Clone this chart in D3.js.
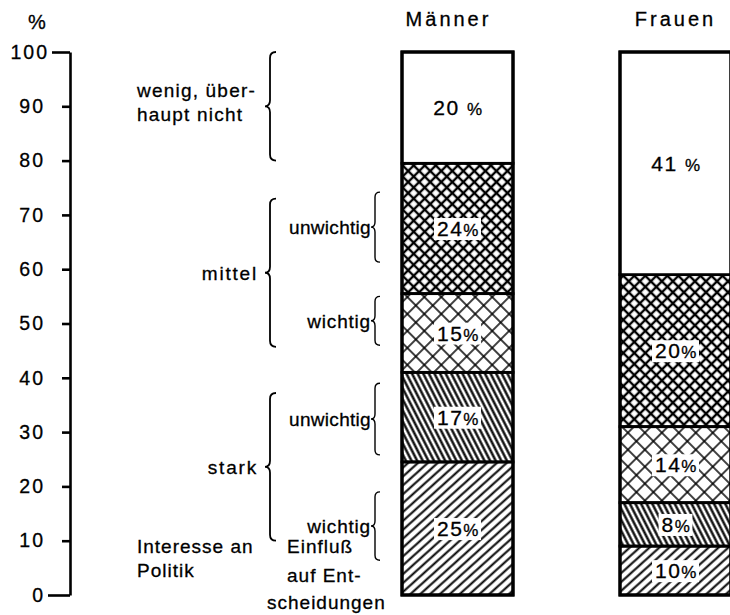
<!DOCTYPE html>
<html><head><meta charset="utf-8">
<script src="https://cdn.jsdelivr.net/npm/d3@7"></script>
<style>body{margin:0;background:#fff}svg{display:block}text{font-family:"Liberation Sans",Arial,sans-serif;fill:#000;stroke:#000;stroke-width:0.3px}</style>
</head><body><svg id="c" width="730" height="615"></svg>
<script>
// ---- data ----
const groups = ["Männer", "Frauen"];
const categories = ["stark-wichtig", "stark-unwichtig", "mittel-wichtig", "mittel-unwichtig", "wenig"];
const maennerValues = [24.5, 16.5, 14.5, 24, 20.5];   // drawn segment heights (%)
const frauenValues  = [9, 8, 14, 28, 41];
const maennerLabels = ["25", "17", "15", "24", "20"]; // printed labels
const frauenLabels  = ["10", "8", "14", "20", "41"];
const yTicks = [0, 10, 20, 30, 40, 50, 60, 70, 80, 90, 100];
const interestGroups = [
  {lines: ["wenig, über-", "haupt nicht"], from: 80, to: 100},
  {lines: ["mittel"], from: 45.7, to: 73},
  {lines: ["stark"], from: 10, to: 37.2}
];
const influenceGroups = [
  {label: "unwichtig", from: 61.3, to: 74.2},
  {label: "wichtig", from: 46, to: 55},
  {label: "unwichtig", from: 25.8, to: 39},
  {label: "wichtig", from: 6.4, to: 19}
];

const svg = d3.select("#c");
const y = d3.scaleLinear().domain([0, 100]).range([595, 52]);
const x = d3.scaleBand().domain(groups).range([402, 731]).paddingInner(0.4908);
const bw = x.bandwidth();

// ---- patterns ----
const defs = svg.append("defs");
function linePattern(id, spacing, angle, sw) {
  const p = defs.append("pattern").attr("id", id).attr("patternUnits", "userSpaceOnUse")
    .attr("width", 20).attr("height", spacing).attr("patternTransform", `rotate(${angle})`);
  p.append("line").attr("x1", 0).attr("x2", 20).attr("y1", spacing / 2).attr("y2", spacing / 2)
    .attr("stroke", "#000").attr("stroke-width", sw);
}
function crossPattern(id, s, sw) {
  const p = defs.append("pattern").attr("id", id).attr("patternUnits", "userSpaceOnUse")
    .attr("width", s).attr("height", s).attr("patternTransform", "rotate(45)");
  p.append("line").attr("x1", 0).attr("x2", s).attr("y1", s / 2).attr("y2", s / 2).attr("stroke", "#000").attr("stroke-width", sw);
  p.append("line").attr("y1", 0).attr("y2", s).attr("x1", s / 2).attr("x2", s / 2).attr("stroke", "#000").attr("stroke-width", sw);
}
linePattern("p0", 6.6, -42, 2.0);
linePattern("p1", 5.0, 63, 2.3);
crossPattern("p2", 12, 1.5);
crossPattern("p3", 7.8, 2.4);
const fills = ["url(#p0)", "url(#p1)", "url(#p2)", "url(#p3)", "#fff"];

// ---- axis ----
const axis = d3.axisLeft(y).tickValues(yTicks).tickSize(8).tickSizeOuter(0).tickPadding(17).tickFormat(d3.format("d"));
const ag = svg.append("g").attr("transform", "translate(70,0)").call(axis);
ag.attr("font-family", null).attr("font-size", null);
ag.select(".domain").attr("stroke-width", 2.6);
ag.selectAll(".tick line").attr("stroke-width", 2.6);
ag.selectAll(".tick text").style("font-size", "19.5px").style("letter-spacing", "2px");
ag.selectAll(".tick").filter(d => d === 100).select("line").attr("x2", -18);
ag.selectAll(".tick").filter(d => d === 100).select("text").attr("x", -21);
ag.selectAll(".tick").filter(d => d === 0).select("line").attr("x2", -22);
svg.append("text").attr("x", 37).attr("y", 29).attr("text-anchor", "middle").style("font-size", "20px").text("%");

// ---- bars ----
const series = [
  {g: "Männer", values: maennerValues, labels: maennerLabels},
  {g: "Frauen", values: frauenValues, labels: frauenLabels}
];
series.forEach(s => {
  const x0 = x(s.g);
  const cum = [0, ...d3.cumsum(s.values)];
  const bg = svg.append("g");
  s.values.forEach((v, i) => {
    bg.append("rect").attr("x", x0).attr("width", bw)
      .attr("y", y(cum[i + 1])).attr("height", y(cum[i]) - y(cum[i + 1]))
      .attr("fill", fills[i]).attr("stroke", "#000").attr("stroke-width", 2.8);
  });
  bg.append("rect").attr("x", x0).attr("y", y(100)).attr("width", bw).attr("height", y(0) - y(100))
    .attr("fill", "none").attr("stroke", "#000").attr("stroke-width", 3.2);
  s.values.forEach((v, i) => {
    const cy = (y(cum[i]) + y(cum[i + 1])) / 2;
    const t = bg.append("text").attr("x", x0 + bw / 2 + 1).attr("y", cy).attr("dy", "0.36em")
      .attr("text-anchor", "middle").style("font-size", "21px").style("letter-spacing", "1.5px");
    t.append("tspan").text(s.labels[i] + (i === categories.length - 1 ? " " : ""));
    t.append("tspan").style("font-size", "17px").text("%");
    if (i < categories.length - 1) {
      const b = t.node().getBBox();
      bg.insert("rect", "text").attr("x", b.x - 3).attr("y", b.y + 1).attr("width", b.width + 4).attr("height", b.height - 1).attr("fill", "#fff");
    }
  });
  svg.append("text").attr("x", x0 + bw / 2 - (s.g === "Männer" ? 9 : 0)).attr("y", 26)
    .attr("text-anchor", "middle").style("font-size", "20px").style("letter-spacing", "3px").text(s.g);
});

// ---- braces ----
function brace(xp, y0, y1, w, r) {
  const ym = (y0 + y1) / 2;
  return `M${xp + r},${y0} Q${xp},${y0} ${xp},${y0 + r} L${xp},${ym - r} Q${xp},${ym} ${xp - w},${ym} ` +
         `Q${xp},${ym} ${xp},${ym + r} L${xp},${y1 - r} Q${xp},${y1} ${xp + r},${y1}`;
}
interestGroups.forEach((gp, i) => {
  const y0 = y(gp.to), y1 = y(gp.from);
  svg.append("path").attr("d", brace(270, y0, y1, 5, 6)).attr("fill", "none").attr("stroke", "#000").attr("stroke-width", 1.8);
  if (i === 0) {
    gp.lines.forEach((l, k) => svg.append("text").attr("x", 137).attr("y", 97 + k * 24)
      .style("font-size", "19px").style("letter-spacing", "1.2px").text(l));
  } else {
    svg.append("text").attr("x", 258).attr("y", (y0 + y1) / 2).attr("dy", "0.36em").attr("text-anchor", "end")
      .style("font-size", "19px").style("letter-spacing", "1.8px").text(gp.lines[0]);
  }
});
influenceGroups.forEach(gp => {
  const y0 = y(gp.to), y1 = y(gp.from);
  svg.append("path").attr("d", brace(375, y0, y1, 4, 5)).attr("fill", "none").attr("stroke", "#000").attr("stroke-width", 1.4);
  svg.append("text").attr("x", 371).attr("y", (y0 + y1) / 2).attr("dy", "0.36em").attr("text-anchor", "end")
    .style("font-size", "19px").style("letter-spacing", gp.label === "unwichtig" ? "0.3px" : "0.8px").text(gp.label);
});

// ---- footer labels ----
[["Interesse an", 137, 553], ["Politik", 137, 577], ["Einfluß", 287, 553], ["auf Ent-", 287, 582], ["scheidungen", 267, 609]]
  .forEach(([t, xx, yy]) => svg.append("text").attr("x", xx).attr("y", yy)
    .style("font-size", "19px").style("letter-spacing", "1px").text(t));
</script></body></html>
